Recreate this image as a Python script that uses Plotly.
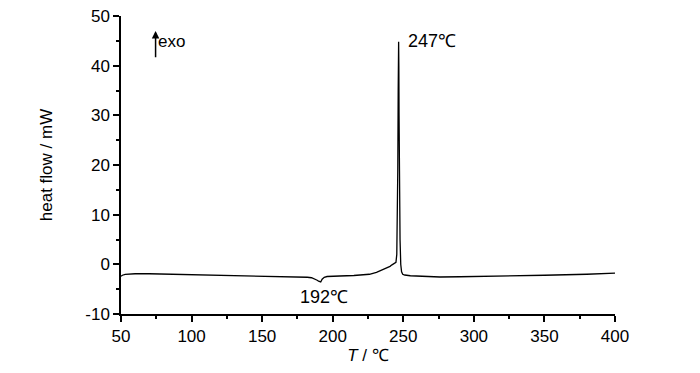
import plotly.graph_objects as go

temperature = [50, 51, 53, 56, 60, 70, 80, 100, 120, 140, 160, 175, 182, 185, 187, 189, 190, 191, 191.5, 192.5, 194, 196, 198, 205,
               215, 226, 231, 236, 239, 240.6, 242, 243.5, 244.8, 245.4, 245.8, 246.1, 246.4, 246.6, 246.7, 246.85, 247.0, 247.3,
               247.7, 248.2, 248.8, 249.6, 251, 255, 265, 276, 290, 318, 350, 380, 398, 400]
heat_flow = [-2.4, -2.2, -2.0, -1.9, -1.9, -1.9, -1.95, -2.05, -2.15, -2.3, -2.4, -2.5, -2.6, -2.7, -2.9, -3.2, -3.4, -3.6, -3.55, -3.0,
             -2.6, -2.45, -2.4, -2.35, -2.25, -2.0, -1.6, -1.0, -0.6, -0.4, -0.1, 0.2, 0.4, 2.0, 8.0, 19.0, 35.0, 42.0, 44.8, 40.0, 30.0, 16.0,
             5.0, 0.0, -1.5, -2.0, -2.15, -2.3, -2.45, -2.55, -2.5, -2.4, -2.2, -2.0, -1.8, -1.75]

x_ticks = [50, 100, 150, 200, 250, 300, 350, 400]
x_tick_labels = ["50", "100", "150", "200", "250", "300", "350", "400"]
y_ticks = [-10, 0, 10, 20, 30, 40, 50]
y_tick_labels = ["-10", "0", "10", "20", "30", "40", "50"]

font_family = "Liberation Sans, Arial, sans-serif"

fig = go.Figure()
fig.add_trace(go.Scatter(x=temperature, y=heat_flow, mode="lines",
                         line=dict(color="black", width=1.3), showlegend=False))

fig.add_annotation(x=252, y=45.0, xref="x", yref="y", text="247℃", showarrow=False,
                   xanchor="left", yanchor="middle", font=dict(size=18, color="black", family=font_family))
fig.add_annotation(x=194, y=-6.6, xref="x", yref="y", text="192℃", showarrow=False,
                   xanchor="center", yanchor="middle", font=dict(size=18, color="black", family=font_family))
fig.add_annotation(x=74.5, y=44.8, xref="x", yref="y", text="exo", showarrow=False,
                   xanchor="left", yanchor="middle", font=dict(size=17, color="black", family=font_family))
fig.add_annotation(x=74.5, y=47.0, ax=74.5, ay=41.4, xref="x", yref="y", axref="x", ayref="y",
                   text="", showarrow=True, arrowhead=2, arrowsize=1, arrowwidth=1.5, arrowcolor="black")

fig.update_xaxes(range=[50, 400], tickvals=x_ticks, ticktext=x_tick_labels, automargin=False,
                 ticklabeloverflow="allow",
                 showline=True, linecolor="black", linewidth=1.5,
                 ticks="outside", ticklen=6, tickwidth=1.5, tickcolor="black",
                 minor=dict(dtick=25, tick0=50, ticks="outside", ticklen=3, tickwidth=1.5, tickcolor="black"),
                 showgrid=False, zeroline=False, mirror=False,
                 tickfont=dict(size=17, color="black", family=font_family),
                 title=dict(text="<i>T</i> / ℃", font=dict(size=17, color="black", family=font_family), standoff=4))
fig.update_yaxes(range=[-10, 50], tickvals=y_ticks, ticktext=y_tick_labels, automargin=False,
                 ticklabeloverflow="allow",
                 showline=True, linecolor="black", linewidth=1.5,
                 ticks="outside", ticklen=6, tickwidth=1.5, tickcolor="black",
                 minor=dict(dtick=5, tick0=-10, ticks="outside", ticklen=3, tickwidth=1.5, tickcolor="black"),
                 showgrid=False, zeroline=False, mirror=False,
                 tickfont=dict(size=17, color="black", family=font_family),
                 title=dict(text="heat flow / mW", font=dict(size=17, color="black", family=font_family), standoff=28))

fig.update_layout(width=692, height=365, margin=dict(l=113, r=85, t=8, b=59),
                  plot_bgcolor="white", paper_bgcolor="white")

fig.write_html("out.html")
